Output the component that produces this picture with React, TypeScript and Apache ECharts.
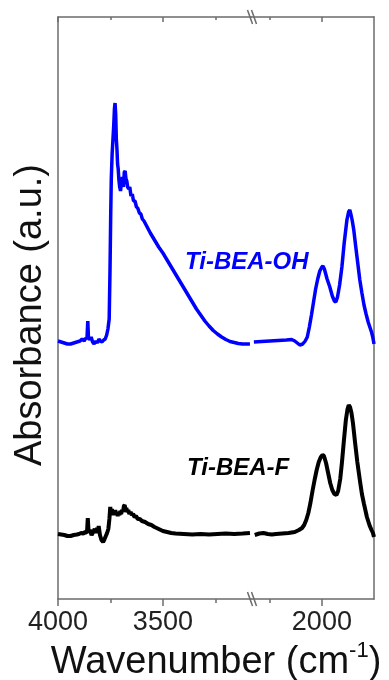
import React, { useEffect, useRef } from "react";
import * as echarts from "echarts";

// Wavenumber (cm-1), absorbance (a.u., arbitrary offset units)
const blueLeft: [number, number][] = [
  [4000, 2.58], [3985, 2.57], [3970, 2.56], [3955, 2.55], [3940, 2.55], [3925, 2.56], [3910, 2.57],
  [3895, 2.58], [3885, 2.6], [3875, 2.58], [3868, 2.61], [3862, 2.6], [3858, 2.78], [3855, 2.62],
  [3850, 2.59], [3842, 2.62], [3835, 2.57], [3828, 2.55], [3820, 2.58], [3812, 2.56], [3805, 2.6],
  [3798, 2.58], [3790, 2.57], [3782, 2.59], [3775, 2.6], [3768, 2.64], [3762, 2.7], [3756, 2.8],
  [3752, 3.3], [3749, 3.8], [3746, 4.2], [3742, 4.45], [3738, 4.6], [3734, 4.75], [3731, 4.9],
  [3728, 4.96], [3725, 4.85], [3722, 4.6], [3719, 4.5], [3716, 4.35], [3713, 4.3], [3710, 4.2],
  [3706, 4.12], [3702, 4.08], [3698, 4.15], [3693, 4.22], [3688, 4.12], [3684, 4.27], [3680, 4.28],
  [3676, 4.2], [3672, 4.18], [3668, 4.12], [3663, 4.1], [3658, 4.12], [3652, 4.03], [3646, 4.05],
  [3640, 3.98], [3633, 3.98], [3626, 3.92], [3620, 3.91], [3612, 3.86], [3605, 3.85], [3598, 3.8],
  [3590, 3.78], [3580, 3.74], [3570, 3.7], [3560, 3.66], [3540, 3.59], [3520, 3.52], [3500, 3.46],
  [3480, 3.39], [3460, 3.32], [3440, 3.25], [3420, 3.18], [3400, 3.11], [3380, 3.04], [3360, 2.97],
  [3340, 2.9], [3320, 2.84], [3300, 2.78], [3280, 2.73], [3260, 2.685], [3240, 2.65], [3220, 2.62],
  [3200, 2.595], [3180, 2.575], [3160, 2.565], [3140, 2.555], [3120, 2.55], [3100, 2.55], [3085, 2.55],
];

const blueRight: [number, number][] = [
  [2326, 2.57], [2290, 2.575], [2250, 2.58], [2210, 2.585], [2170, 2.59], [2145, 2.595], [2130, 2.58],
  [2118, 2.56], [2106, 2.54], [2092, 2.55], [2080, 2.58], [2070, 2.62], [2060, 2.72], [2050, 2.84],
  [2040, 2.97], [2030, 3.1], [2020, 3.2], [2010, 3.28], [2000, 3.32], [1995, 3.33], [1988, 3.3],
  [1975, 3.2], [1962, 3.12], [1950, 3.03], [1940, 2.98], [1933, 2.97], [1925, 3.02], [1915, 3.14],
  [1904, 3.32], [1893, 3.56], [1880, 3.79], [1872, 3.87], [1866, 3.89], [1860, 3.84], [1854, 3.78],
  [1847, 3.69], [1838, 3.53], [1828, 3.36], [1818, 3.19], [1808, 3.06], [1798, 2.94], [1788, 2.85],
  [1778, 2.77], [1770, 2.72], [1762, 2.67], [1756, 2.62], [1750, 2.55],
];

const blackLeft: [number, number][] = [
  [4000, 0.65], [3985, 0.645], [3970, 0.64], [3955, 0.63], [3940, 0.63], [3925, 0.64], [3910, 0.645],
  [3900, 0.65], [3890, 0.66], [3880, 0.655], [3870, 0.67], [3862, 0.66], [3858, 0.81], [3854, 0.67],
  [3848, 0.69], [3840, 0.64], [3832, 0.67], [3825, 0.7], [3820, 0.66], [3814, 0.71], [3810, 0.67],
  [3806, 0.73], [3800, 0.64], [3793, 0.59], [3785, 0.57], [3778, 0.6], [3772, 0.63], [3766, 0.66],
  [3760, 0.7], [3755, 0.8], [3751, 0.92], [3747, 0.86], [3743, 0.9], [3739, 0.84], [3735, 0.88],
  [3731, 0.85], [3727, 0.89], [3723, 0.84], [3719, 0.87], [3715, 0.83], [3711, 0.86], [3707, 0.84],
  [3703, 0.88], [3699, 0.85], [3695, 0.89], [3690, 0.87], [3686, 0.93], [3682, 0.94], [3678, 0.89],
  [3674, 0.91], [3670, 0.87], [3665, 0.89], [3660, 0.85], [3654, 0.87], [3648, 0.84], [3642, 0.85],
  [3635, 0.82], [3628, 0.83], [3620, 0.8], [3610, 0.8], [3600, 0.78], [3585, 0.77], [3570, 0.75],
  [3555, 0.74], [3540, 0.72], [3520, 0.7], [3500, 0.68], [3480, 0.67], [3460, 0.66], [3440, 0.655],
  [3400, 0.65], [3360, 0.645], [3320, 0.65], [3280, 0.645], [3240, 0.65], [3200, 0.655], [3160, 0.65],
  [3120, 0.655], [3085, 0.66],
];

const blackRight: [number, number][] = [
  [2322, 0.64], [2300, 0.655], [2280, 0.66], [2260, 0.65], [2240, 0.645], [2220, 0.65], [2190, 0.655],
  [2160, 0.66], [2130, 0.67], [2110, 0.69], [2095, 0.71], [2085, 0.74], [2075, 0.79], [2065, 0.86],
  [2055, 0.96], [2045, 1.08], [2035, 1.19], [2025, 1.29], [2015, 1.37], [2005, 1.42], [1997, 1.44],
  [1990, 1.43], [1980, 1.36], [1970, 1.26], [1960, 1.16], [1950, 1.09], [1940, 1.05], [1930, 1.04],
  [1922, 1.08], [1912, 1.2], [1904, 1.36], [1895, 1.57], [1885, 1.79], [1877, 1.9], [1871, 1.94],
  [1865, 1.92], [1858, 1.86], [1851, 1.76], [1840, 1.55], [1830, 1.37], [1818, 1.19], [1808, 1.05],
  [1798, 0.95], [1784, 0.82], [1772, 0.74], [1762, 0.69], [1755, 0.66], [1750, 0.62],
];

const leftRange = [3080, 4000];
const rightRange = [1750, 2340];
const leftMajor = [4000, 3500];
const leftMinor = [3750, 3250];
const rightMajor = [2000];
const rightMinor = [2250];
const yRange = [0, 5.82];

const FRAME = "#6b6b6b";
const FONT = "Liberation Sans, Arial, sans-serif";

function xAx(
  grid: number,
  pos: "top" | "bottom",
  range: number[],
  ticks: number[],
  len: number,
  line: boolean,
  labels: boolean
) {
  return {
    type: "value",
    gridIndex: grid,
    position: pos,
    inverse: true,
    min: range[0],
    max: range[1],
    axisLine: { show: line, onZero: false, lineStyle: { color: FRAME, width: 1.5 } },
    axisTick: {
      show: true,
      inside: pos === "top",
      length: len,
      customValues: ticks,
      lineStyle: { color: FRAME, width: 1.5 },
    },
    axisLabel: {
      show: labels,
      customValues: ticks,
      formatter: (v: number) => String(v),
      fontSize: 27,
      fontFamily: FONT,
      color: "#222",
      margin: 8,
    },
    splitLine: { show: false },
  };
}

function yAx(grid: number, pos: "left" | "right") {
  return {
    type: "value",
    gridIndex: grid,
    position: pos,
    min: yRange[0],
    max: yRange[1],
    axisLine: { show: true, lineStyle: { color: FRAME, width: 1.5 } },
    axisTick: { show: false },
    axisLabel: { show: false },
    splitLine: { show: false },
  };
}

export default function App() {
  const ref = useRef<HTMLDivElement>(null);
  useEffect(() => {
    if (!ref.current) return;
    const chart = echarts.init(ref.current, null, { renderer: "svg" });
    const breakStyle = { stroke: FRAME, lineWidth: 1.5 };
    chart.setOption({
      animation: false,
      grid: [
        { left: 58, top: 17, width: 193, height: 582 },
        { left: 251, top: 17, width: 123, height: 582 },
      ],
      xAxis: [
        xAx(0, "bottom", leftRange, leftMajor, 7, true, true),
        xAx(0, "bottom", leftRange, leftMinor, 4, false, false),
        xAx(0, "top", leftRange, leftMajor, 5, true, false),
        xAx(0, "top", leftRange, leftMinor, 3, false, false),
        xAx(1, "bottom", rightRange, rightMajor, 7, true, true),
        xAx(1, "bottom", rightRange, rightMinor, 4, false, false),
        xAx(1, "top", rightRange, rightMajor, 5, true, false),
        xAx(1, "top", rightRange, rightMinor, 3, false, false),
      ],
      yAxis: [yAx(0, "left"), yAx(1, "right")],
      series: [
        { type: "line", xAxisIndex: 0, yAxisIndex: 0, data: blueLeft, showSymbol: false, symbol: "none", lineStyle: { color: "#0000ff", width: 3.5 } },
        { type: "line", xAxisIndex: 4, yAxisIndex: 1, data: blueRight, showSymbol: false, symbol: "none", lineStyle: { color: "#0000ff", width: 3.5 } },
        { type: "line", xAxisIndex: 0, yAxisIndex: 0, data: blackLeft, showSymbol: false, symbol: "none", lineStyle: { color: "#000000", width: 4 } },
        { type: "line", xAxisIndex: 4, yAxisIndex: 1, data: blackRight, showSymbol: false, symbol: "none", lineStyle: { color: "#000000", width: 4 } },
      ],
      graphic: [
        { type: "line", shape: { x1: 247.5, y1: 10, x2: 252.5, y2: 24 }, style: breakStyle },
        { type: "line", shape: { x1: 251.5, y1: 10, x2: 256.5, y2: 24 }, style: breakStyle },
        { type: "line", shape: { x1: 247.5, y1: 592, x2: 252.5, y2: 606 }, style: breakStyle },
        { type: "line", shape: { x1: 251.5, y1: 592, x2: 256.5, y2: 606 }, style: breakStyle },
        {
          type: "text", x: 185, y: 260,
          style: { text: "Ti-BEA-OH", fontSize: 24, fontWeight: "bold", fontStyle: "italic", fontFamily: FONT, fill: "#0000ff", textAlign: "left", textVerticalAlign: "middle" },
        },
        {
          type: "text", x: 187, y: 466,
          style: { text: "Ti-BEA-F", fontSize: 24, fontWeight: "bold", fontStyle: "italic", fontFamily: FONT, fill: "#000", textAlign: "left", textVerticalAlign: "middle" },
        },
        {
          type: "text", x: 28, y: 315, rotation: Math.PI / 2,
          style: { text: "Absorbance (a.u.)", fontSize: 38, fontFamily: FONT, fill: "#111", textAlign: "center", textVerticalAlign: "middle" },
        },
        {
          type: "text", x: 216, y: 660,
          style: {
            text: "{a|Wavenumber (cm}{s|-1}{a|)}",
            textAlign: "center",
            textVerticalAlign: "middle",
            rich: {
              a: { fontSize: 38, fontFamily: FONT, fill: "#111", lineHeight: 44 },
              s: { fontSize: 22, fontFamily: FONT, fill: "#111", verticalAlign: "top", lineHeight: 44 },
            },
          },
        },
      ],
    });
    return () => chart.dispose();
  }, []);
  return <div ref={ref} style={{ position: "fixed", left: 0, top: 0, width: 389, height: 680 }} />;
}
